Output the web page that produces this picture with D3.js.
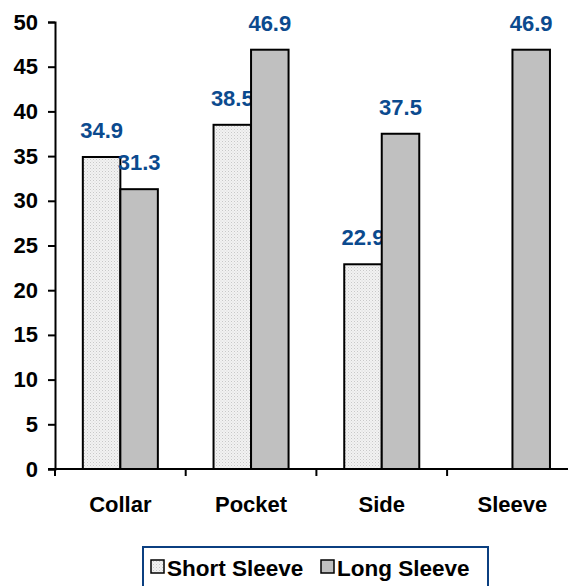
<!DOCTYPE html>
<html>
<head>
<meta charset="utf-8">
<script src="https://cdn.jsdelivr.net/npm/d3@7"></script>
<style>
  body { margin: 0; background: #fff; }
  text { font-family: Arial, "Liberation Sans", sans-serif; font-weight: bold; }
</style>
</head>
<body>
<svg id="chart" width="568" height="586"></svg>
<script>
// Chart data
const categories = ['Collar', 'Pocket', 'Side', 'Sleeve'];
const seriesNames = ['Short Sleeve', 'Long Sleeve'];
const shortSleeve = [34.9, 38.5, 22.9, null];
const longSleeve = [31.3, 46.9, 37.5, 46.9];
const yTicks = [0, 5, 10, 15, 20, 25, 30, 35, 40, 45, 50];

const svg = d3.select('#chart');
const margin = { left: 55, top: 22, bottom: 469 };
const step = 130.7;
const fontSize = 22;

// Dotted fill for the short sleeve bars
const defs = svg.append('defs');
const pat = defs.append('pattern')
    .attr('id', 'dots')
    .attr('width', 3).attr('height', 3)
    .attr('patternUnits', 'userSpaceOnUse');
pat.append('rect').attr('width', 3).attr('height', 3).attr('fill', '#f2f2f2');
pat.append('rect').attr('x', 0).attr('y', 0).attr('width', 1).attr('height', 1).attr('fill', '#c8c8c8');
pat.append('rect').attr('x', 1.5).attr('y', 1.5).attr('width', 1).attr('height', 1).attr('fill', '#d8d8d8');

const x = d3.scaleBand()
    .domain(categories)
    .range([margin.left, margin.left + step * categories.length])
    .paddingInner(0.426)
    .paddingOuter(0.213);

const y = d3.scaleLinear().domain([0, 50]).range([margin.bottom, margin.top]);

const barW = x.bandwidth() / 2;
const fills = ['url(#dots)', '#c0c0c0'];

// Bars
const series = [shortSleeve, longSleeve];
series.forEach((vals, si) => {
    const data = categories.map((c, i) => ({ cat: c, v: vals[i] })).filter(d => d.v != null);
    svg.append('g').selectAll('rect')
        .data(data)
        .enter().append('rect')
        .attr('x', d => x(d.cat) + si * barW)
        .attr('y', d => y(d.v))
        .attr('width', barW)
        .attr('height', d => y(0) - y(d.v))
        .attr('fill', fills[si])
        .attr('stroke', '#000')
        .attr('stroke-width', 2);

    svg.append('g').selectAll('text')
        .data(data)
        .enter().append('text')
        .attr('x', d => x(d.cat) + si * barW + barW / 2)
        .attr('y', d => y(d.v) - 19)
        .attr('text-anchor', 'middle')
        .attr('font-size', fontSize)
        .attr('fill', '#0b4a8e')
        .text(d => d.v.toFixed(1));
});

// Y axis
const yAxis = svg.append('g')
    .attr('transform', `translate(${margin.left},0)`)
    .call(d3.axisLeft(y).tickValues(yTicks).tickSize(7).tickPadding(10));
yAxis.select('.domain').attr('stroke', '#000').attr('stroke-width', 2);
yAxis.selectAll('.tick line').attr('stroke', '#000').attr('stroke-width', 2);
yAxis.selectAll('.tick text')
    .attr('font-size', fontSize)
    .attr('font-family', 'Arial, "Liberation Sans", sans-serif')
    .attr('font-weight', 'bold')
    .attr('fill', '#000');

// X axis line and category separators
const xAxisG = svg.append('g');
xAxisG.append('line')
    .attr('x1', margin.left - 7).attr('x2', 568)
    .attr('y1', y(0)).attr('y2', y(0))
    .attr('stroke', '#000').attr('stroke-width', 2);
xAxisG.selectAll('.sep')
    .data(d3.range(categories.length + 1))
    .enter().append('line')
    .attr('x1', i => margin.left + i * step)
    .attr('x2', i => margin.left + i * step)
    .attr('y1', y(0)).attr('y2', y(0) + 7)
    .attr('stroke', '#000').attr('stroke-width', 2);
xAxisG.selectAll('.cat')
    .data(categories)
    .enter().append('text')
    .attr('x', d => x(d) + x.bandwidth() / 2)
    .attr('y', 512)
    .attr('text-anchor', 'middle')
    .attr('font-size', fontSize)
    .attr('fill', '#000')
    .text(d => d);

// Legend
const legend = svg.append('g');
legend.append('rect')
    .attr('x', 143).attr('y', 547)
    .attr('width', 345).attr('height', 44)
    .attr('fill', '#fff')
    .attr('stroke', '#0b3f80').attr('stroke-width', 2);
const legendX = [151, 321];
seriesNames.forEach((name, i) => {
    legend.append('rect')
        .attr('x', legendX[i]).attr('y', 560)
        .attr('width', 13).attr('height', 13)
        .attr('fill', fills[i])
        .attr('stroke', '#000').attr('stroke-width', 1.5);
    legend.append('text')
        .attr('x', legendX[i] + 16).attr('y', 576)
        .attr('font-size', 22.5)
        .attr('fill', '#000')
        .text(name);
});
</script>
</body>
</html>
